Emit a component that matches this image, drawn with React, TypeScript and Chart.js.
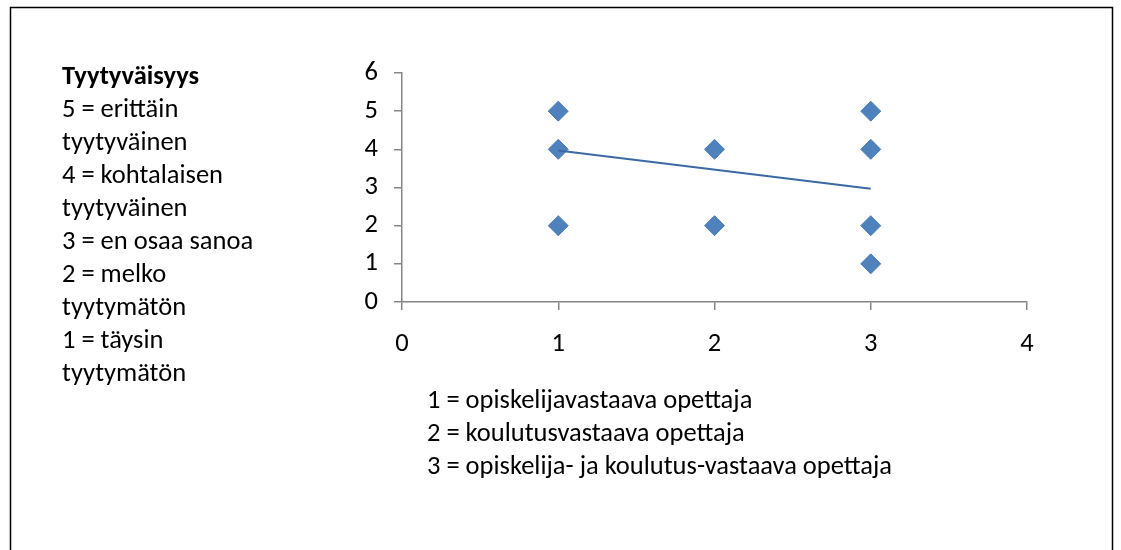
import React, { useEffect, useRef } from "react";
import { Chart, registerables } from "chart.js";

Chart.register(...registerables);

// ---- Data ----
const teacherRole = [1, 1, 1, 2, 2, 3, 3, 3, 3];
const satisfaction = [5, 4, 2, 4, 2, 5, 4, 2, 1];
const trendX = [1, 3];
const trendY = [3.97, 2.97];
const leftTitle = "Tyytyväisyys";
const leftLines = [
  "5 = erittäin",
  "tyytyväinen",
  "4 = kohtalaisen",
  "tyytyväinen",
  "3 = en osaa sanoa",
  "2 = melko",
  "tyytymätön",
  "1 = täysin",
  "tyytymätön",
];
const bottomLines = [
  "1 = opiskelijavastaava opettaja",
  "2 = koulutusvastaava opettaja",
  "3 = opiskelija- ja koulutus-vastaava opettaja",
];

const FONT = "Carlito, Calibri, Lato, sans-serif";
const FS = 26.5;
const AXIS = "#868686";

const textPlugin = {
  id: "sideTexts",
  afterDraw(chart: any) {
    const ctx = chart.ctx as CanvasRenderingContext2D;
    ctx.save();
    // outer border
    ctx.strokeStyle = "#000";
    ctx.lineWidth = 1.5;
    ctx.strokeRect(10.5, 7.5, 1102, 560);
    ctx.fillStyle = "#000";
    ctx.textBaseline = "middle";
    ctx.textAlign = "left";
    ctx.font = `bold ${FS}px ${FONT}`;
    ctx.fillText(leftTitle, 62, 77);
    ctx.font = `${FS}px ${FONT}`;
    leftLines.forEach((t, i) => ctx.fillText(t, 62, 77 + 33 * (i + 1)));
    bottomLines.forEach((t, i) => ctx.fillText(t, 427, 401 + 33 * i));
    ctx.restore();
  },
};

export default function App() {
  const ref = useRef<HTMLCanvasElement | null>(null);
  useEffect(() => {
    if (!ref.current) return;
    const chart = new Chart(ref.current, {
      type: "scatter",
      data: {
        datasets: [
          {
            type: "line",
            label: "Trend",
            data: trendX.map((x, i) => ({ x, y: trendY[i] })),
            borderColor: "#3B69A5",
            borderWidth: 2,
            pointRadius: 0,
            fill: false,
            order: 0,
          } as any,
          {
            label: "Tyytyväisyys",
            data: teacherRole.map((x, i) => ({ x, y: satisfaction[i] })),
            pointStyle: "rectRot",
            pointRadius: 10,
            pointHoverRadius: 10,
            backgroundColor: "#4F81BD",
            borderColor: "#4A7EBB",
            borderWidth: 1,
            order: 1,
          },
        ],
      },
      options: {
        animation: false,
        responsive: false,
        maintainAspectRatio: false,
        layout: { padding: { left: 0, top: 73, right: 94, bottom: 0 } },
        plugins: {
          legend: { display: false },
          tooltip: { enabled: false },
        },
        scales: {
          x: {
            type: "linear",
            min: 0,
            max: 4,
            ticks: { stepSize: 1, color: "#000", font: { family: FONT, size: FS }, padding: 18 },
            grid: { drawOnChartArea: false, drawTicks: true, tickLength: 8, color: AXIS, lineWidth: 1.5 },
            border: { color: AXIS, width: 1.5 },
            afterFit: (s: any) => {
              s.height = 550 - 302;
            },
          },
          y: {
            type: "linear",
            min: 0,
            max: 6,
            ticks: { stepSize: 1, color: "#000", font: { family: FONT, size: FS }, padding: 16 },
            grid: { drawOnChartArea: false, drawTicks: true, tickLength: 8, color: AXIS, lineWidth: 1.5 },
            border: { color: AXIS, width: 1.5 },
            afterFit: (s: any) => {
              s.width = 402;
            },
          },
        },
      },
      plugins: [textPlugin],
    });
    return () => chart.destroy();
  }, []);
  return (
    <div style={{ position: "fixed", left: 0, top: 0, width: 1121, height: 550, background: "#fff" }}>
      <canvas ref={ref} width={1121} height={550} style={{ width: 1121, height: 550, display: "block" }} />
    </div>
  );
}
